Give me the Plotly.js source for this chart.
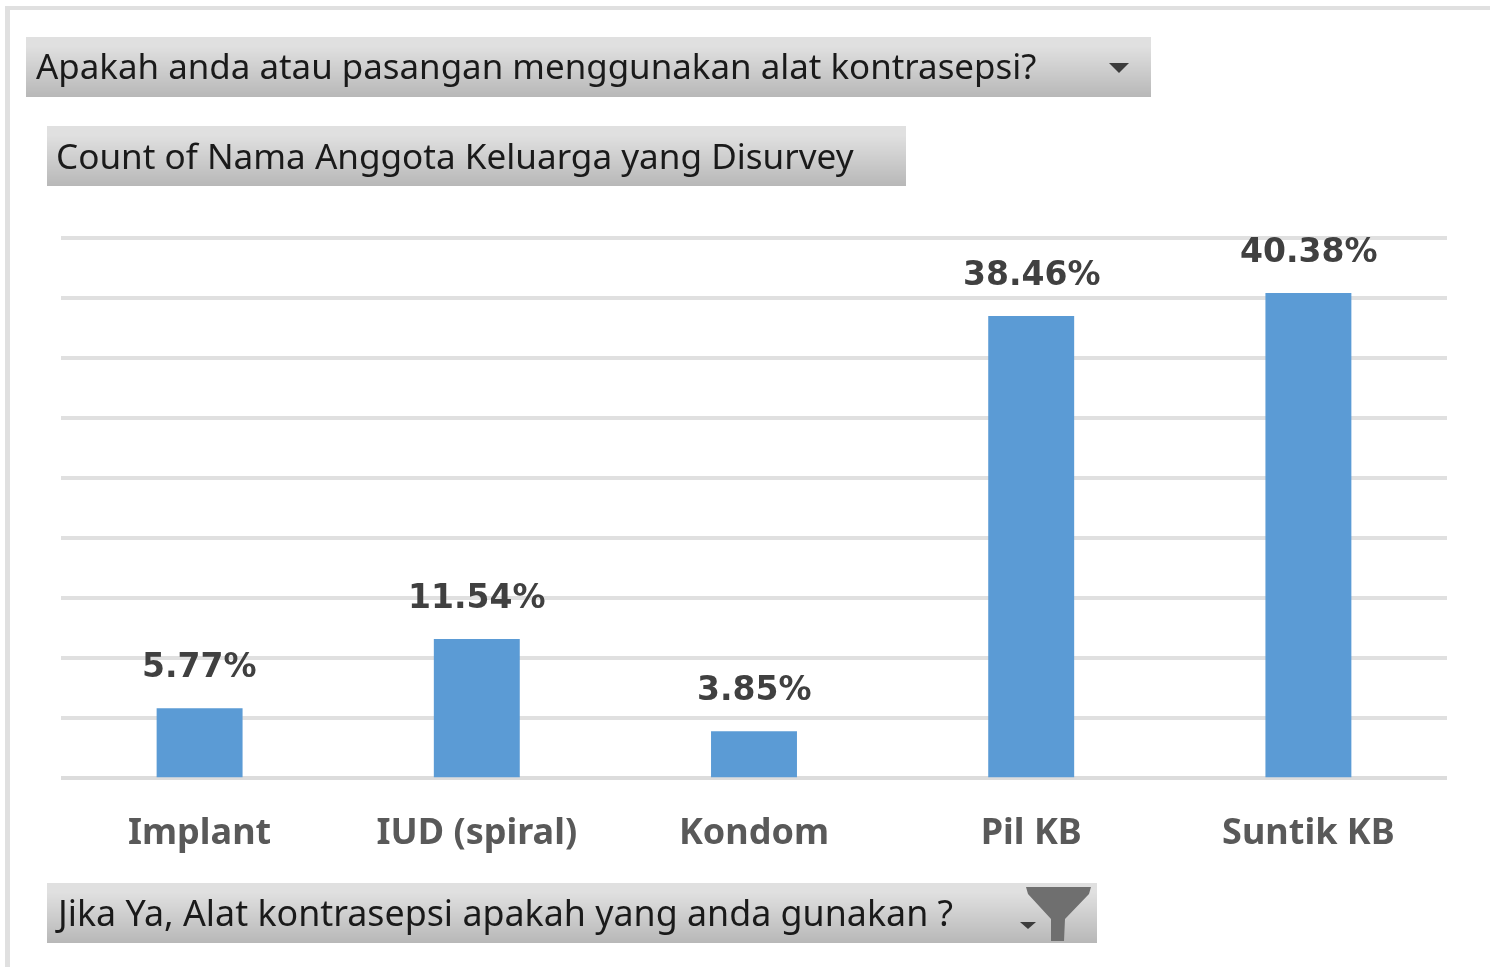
<!DOCTYPE html>
<html>
<head>
<meta charset="utf-8">
<script src="https://cdn.plot.ly/plotly-3.0.1.min.js"></script>
<style>html,body{margin:0;padding:0;background:#fff;overflow:hidden}#chart{width:1490px;height:967px;filter:blur(0.5px)}</style>
</head>
<body>
<div id="chart"></div>
<script>
const categories = ["Implant", "IUD (spiral)", "Kondom", "Pil KB", "Suntik KB"];
const values = [5.77, 11.54, 3.85, 38.46, 40.38];
const valueLabels = ["5.77%", "11.54%", "3.85%", "38.46%", "40.38%"];
const headerTexts = [
  "Apakah anda atau pasangan menggunakan alat kontrasepsi?",
  "Count of Nama Anggota Keluarga yang Disurvey",
  "Jika Ya, Alat kontrasepsi apakah yang anda gunakan ?"
];

const W = 1490, H = 967;
const px = x => x / W;
const py = y => 1 - y / H;
const boxes = [
  {x0: 26, x1: 1151, y0: 37, y1: 97, tx: 34, size: 34.9},
  {x0: 47, x1: 906, y0: 126, y1: 186, tx: 54, size: 35.1},
  {x0: 47, x1: 1097, y0: 883, y1: 943, tx: 53, size: 35.8}
];
const shapes = [];
function rect(x0, y0, x1, y1, color) {
  shapes.push({type: 'rect', xref: 'paper', yref: 'paper', layer: 'below',
    x0: px(x0), x1: px(x1), y0: py(y0), y1: py(y1), fillcolor: color, line: {width: 0}});
}
function poly(pts, color) {
  const d = pts.map((p, i) => (i ? 'L' : 'M') + px(p[0]) + ',' + py(p[1])).join(' ') + ' Z';
  shapes.push({type: 'path', xref: 'paper', yref: 'paper', layer: 'above', path: d,
    fillcolor: color, line: {width: 0}});
}
// frame
rect(5, 6, 1490, 10, '#e0e0e0');
rect(5, 6, 10, 967, '#e0e0e0');
// gradient header boxes
boxes.forEach(b => {
  const n = b.y1 - b.y0;
  for (let i = 0; i < n; i++) {
    const t = Math.max(0, (i / (n - 1) - 0.15) / 0.85);
    const v = Math.round(224 - t * (224 - 184));
    rect(b.x0, b.y0 + i, b.x1, b.y0 + i + 1, `rgb(${v},${v},${v})`);
  }
});
// dropdown arrows and filter funnel
poly([[1109, 63], [1129, 63], [1119, 73]], '#3c3c3c');
poly([[1020, 922], [1036, 922], [1028, 929]], '#3c3c3c');
poly([[1026, 887], [1091, 887], [1089, 894], [1065, 919], [1064, 941], [1051, 941], [1051, 919], [1028, 894]], '#6f6f6f');

const annotations = headerTexts.map((t, i) => ({
  text: t, xref: 'paper', yref: 'paper', x: px(boxes[i].tx), y: py((boxes[i].y0 + boxes[i].y1) / 2 - 1.5),
  xanchor: 'left', yanchor: 'middle', showarrow: false,
  font: {family: '"Noto Sans", sans-serif', size: boxes[i].size, color: '#1a1a1a'}
}));
categories.forEach((c, i) => annotations.push({
  text: valueLabels[i], x: c, y: values[i], xref: 'x', yref: 'y', yanchor: 'bottom', showarrow: false,
  yshift: 21, font: {family: '"DejaVu Sans", sans-serif', size: 33, weight: 700, color: '#404040'}
}));

const axisTop = 45.2;
Plotly.newPlot('chart', [{
  type: 'bar', x: categories, y: values, width: 0.31,
  marker: {color: '#5b9bd5', line: {width: 0}}, hoverinfo: 'skip'
}], {
  width: W, height: H,
  margin: {l: 0, r: 0, t: 0, b: 0, pad: 0},
  paper_bgcolor: 'rgba(0,0,0,0)', plot_bgcolor: 'rgba(0,0,0,0)',
  showlegend: false,
  xaxis: {
    domain: [px(61), px(1447)], type: 'category', fixedrange: true,
    showgrid: false, zeroline: false, showline: false, ticks: '',
    tickfont: {family: '"Noto Sans", sans-serif', size: 36, weight: 700, color: '#595959'},
    ticklabelstandoff: 29
  },
  yaxis: {
    domain: [py(777.5), py(777.5 - axisTop * 12)], range: [0, axisTop], dtick: 5, fixedrange: true,
    showticklabels: false, ticks: '', showline: false,
    showgrid: true, gridcolor: '#e0e0e0', gridwidth: 4,
    zeroline: true, zerolinecolor: '#dcdcdc', zerolinewidth: 4
  },
  shapes, annotations
}, {displayModeBar: false, staticPlot: true});
</script>
</body>
</html>
